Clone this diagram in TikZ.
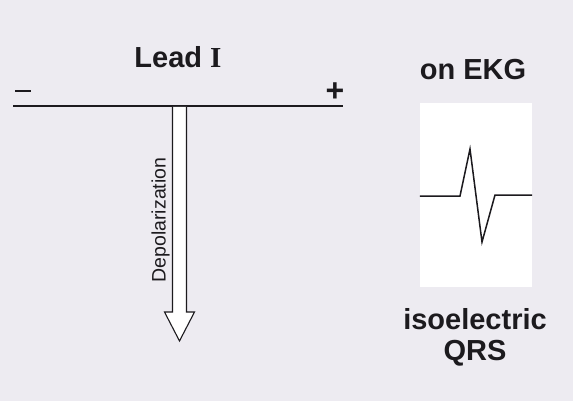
\documentclass[tikz,border=0pt]{standalone}
\usepackage{fontspec}
\setmainfont{Liberation Sans}
\newfontfamily\serifbold{Liberation Serif}
\definecolor{bgc}{RGB}{237,235,241}
\definecolor{ink}{RGB}{28,26,30}
\begin{document}
\begin{tikzpicture}[x=1pt,y=-1pt,
  big/.style={font=\fontsize{29}{32}\selectfont\bfseries, text=ink, inner sep=0pt},
  leadline/.style={draw=ink, line width=1.6pt},
  blockarrow/.style={draw=ink, fill=white, line width=1.1pt, line join=miter},
  trace/.style={draw=ink, line width=1.5pt, line join=miter}]
\fill[bgc] (0,0) rectangle (573,401);
\useasboundingbox (0,0) rectangle (573,401);
% Lead I
\node[big] (title) at (178,57) {Lead {\serifbold\bfseries I}};
\node[text=ink, inner sep=0pt] (minus) at (23,91) {\rule{16pt}{2.6pt}};
\node[big, font=\fontsize{32}{34}\selectfont\bfseries] (plus) at (335,92) {+};
\coordinate (l1) at (13,106);
\coordinate (l2) at (343,106);
\draw[leadline] (l1) -- (l2);
% depolarization arrow
\draw[blockarrow] (172.5,107) -- (172.5,312) -- (164.5,312) -- (179.5,341) -- (194.5,312) -- (186.5,312) -- (186.5,107);
\node[rotate=90, font=\fontsize{19.5}{21}\selectfont, text=ink, inner sep=0pt] (dep) at (160.5,220) {Depolarization};
% EKG
\node[big] (ekg) at (473,70) {on EKG};
\node[fill=white, minimum width=112pt, minimum height=184pt, inner sep=0pt] (box) at (476,195) {};
\coordinate (t0) at (box.west |- 0,196);
\coordinate (t5) at (box.east |- 0,195);
\draw[trace] (t0) -- (460,196) -- (470,149) -- (482,242) -- (495,195) -- (t5);
\node[big, align=center, font=\fontsize{29}{31}\selectfont\bfseries] (iso) at (475,337) {isoelectric\\QRS};
\end{tikzpicture}
\end{document}
